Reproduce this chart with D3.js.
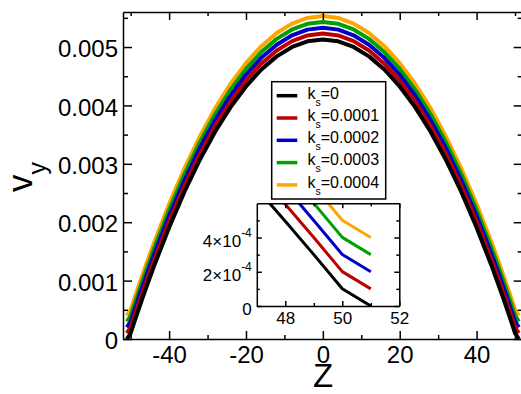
<!DOCTYPE html>
<html><head><meta charset="utf-8">
<script src="https://cdn.jsdelivr.net/npm/d3@7"></script>
<style>body{margin:0;background:#fff}</style>
</head><body>
<svg id="c" width="521" height="394"></svg>
<script>
// ---- data ----
const zValues = [-51,-50,-49,-48,-47,-46,-44,-40,-36,-32,-28,-24,-20,-16,-12,-8,-4,0,4,8,12,16,20,24,28,32,36,40,44,46,47,48,49,50,51];
const vyK0 = [0,0.000101,0.000300,0.000495,0.000686,0.000874,0.001236,0.001911,0.002523,0.003070,0.003553,0.003971,0.004325,0.004615,0.004840,0.005001,0.005098,0.005130,0.005098,0.005001,0.004840,0.004615,0.004325,0.003971,0.003553,0.003070,0.002523,0.001911,0.001236,0.000874,0.000686,0.000495,0.000300,0.000101,0];
const vyK1 = [0.0001,0.000201,0.000400,0.000595,0.000786,0.000974,0.001336,0.002011,0.002623,0.003170,0.003653,0.004071,0.004425,0.004715,0.004940,0.005101,0.005198,0.005230,0.005198,0.005101,0.004940,0.004715,0.004425,0.004071,0.003653,0.003170,0.002623,0.002011,0.001336,0.000974,0.000786,0.000595,0.000400,0.000201,0.0001];
const vyK2 = [0.0002,0.000301,0.000500,0.000695,0.000886,0.001074,0.001436,0.002111,0.002723,0.003270,0.003753,0.004171,0.004525,0.004815,0.005040,0.005201,0.005298,0.005330,0.005298,0.005201,0.005040,0.004815,0.004525,0.004171,0.003753,0.003270,0.002723,0.002111,0.001436,0.001074,0.000886,0.000695,0.000500,0.000301,0.0002];
const vyK3 = [0.0003,0.000401,0.000600,0.000795,0.000986,0.001174,0.001536,0.002211,0.002823,0.003370,0.003853,0.004271,0.004625,0.004915,0.005140,0.005301,0.005398,0.005430,0.005398,0.005301,0.005140,0.004915,0.004625,0.004271,0.003853,0.003370,0.002823,0.002211,0.001536,0.001174,0.000986,0.000795,0.000600,0.000401,0.0003];
const vyK4 = [0.0004,0.000501,0.000700,0.000895,0.001086,0.001274,0.001636,0.002311,0.002923,0.003470,0.003953,0.004371,0.004725,0.005015,0.005240,0.005401,0.005498,0.005530,0.005498,0.005401,0.005240,0.005015,0.004725,0.004371,0.003953,0.003470,0.002923,0.002311,0.001636,0.001274,0.001086,0.000895,0.000700,0.000501,0.0004];
const seriesValues = [vyK0, vyK1, vyK2, vyK3, vyK4];
const legendValues = ["=0", "=0.0001", "=0.0002", "=0.0003", "=0.0004"];
const seriesColors = ["#000000", "#bb0000", "#0000c8", "#00a000", "#ffa500"];

const mainXTicks = [-40, -20, 0, 20, 40];
const mainXMinor = [-50, -30, -10, 10, 30, 50];
const mainYTicks = [0, 0.001, 0.002, 0.003, 0.004, 0.005];
const mainYMinor = [0.0005, 0.0015, 0.0025, 0.0035, 0.0045, 0.0055];
const mainYLabels = ["0", "0.001", "0.002", "0.003", "0.004", "0.005"];
const insetXTicks = [48, 50, 52];
const insetXMinor = [49, 51];
const insetYTicks = [0, 0.0002, 0.0004];
const insetYMinor = [0.0001, 0.0003, 0.0005];
const insetYMant = ["0", "2\u00d710", "4\u00d710"];
const insetYExp = ["", "-4", "-4"];

// ---- drawing ----
const FONT = "'Liberation Sans', Arial, Helvetica, sans-serif";
const svg = d3.select("#c");
svg.append("rect").attr("width",521).attr("height",394).attr("fill","#fff");

const x = d3.scaleLinear().domain([-52,52]).range([123,522.7]);
const y = d3.scaleLinear().domain([0,0.0056]).range([339,12]);

function styleAxis(g, fs){
  g.attr("font-family", FONT).attr("font-size", fs);
  g.selectAll("path.domain").attr("stroke","#000").attr("stroke-width",1.5);
  g.selectAll(".tick line").attr("stroke","#000").attr("stroke-width",1.5);
  g.selectAll(".tick text").attr("fill","#000");
}
function minor(g){ g.select("path.domain").remove(); }

// main lines (drawn under frame)
const mainLine = d3.line().x((d,i)=>x(zValues[i])).y(d=>y(d));
const linesG = svg.append("g");
for (let s = seriesValues.length-1; s >= 0; s--) {
  linesG.append("path").attr("d", mainLine(seriesValues[s]))
    .attr("fill","none").attr("stroke",seriesColors[s]).attr("stroke-width",4)
    .attr("stroke-linejoin","round");
}

// main axes
svg.append("g").attr("transform","translate(0,339)")
  .call(d3.axisBottom(x).tickValues(mainXTicks).tickSizeInner(-8).tickSizeOuter(0).tickPadding(7).tickFormat(d=>String(d)))
  .call(g=>styleAxis(g,24));
svg.append("g").attr("transform","translate(0,339)")
  .call(d3.axisBottom(x).tickValues(mainXMinor).tickSize(-4).tickFormat(""))
  .call(minor).call(g=>styleAxis(g,24));
svg.append("g").attr("transform","translate(0,12)")
  .call(d3.axisTop(x).tickValues(mainXTicks).tickSizeInner(-8).tickSizeOuter(0).tickFormat(""))
  .call(g=>styleAxis(g,24));
svg.append("g").attr("transform","translate(0,12)")
  .call(d3.axisTop(x).tickValues(mainXMinor).tickSize(-4).tickFormat(""))
  .call(minor).call(g=>styleAxis(g,24));
const yAx = svg.append("g").attr("transform","translate(123,0)")
  .call(d3.axisLeft(y).tickValues(mainYTicks).tickSizeInner(-9).tickSizeOuter(0).tickPadding(5).tickFormat((d,i)=>mainYLabels[i]))
  .call(g=>styleAxis(g,24));
yAx.selectAll(".tick text").attr("dy","0.4em");
svg.append("g").attr("transform","translate(123,0)")
  .call(d3.axisLeft(y).tickValues(mainYMinor).tickSize(-5).tickFormat(""))
  .call(minor).call(g=>styleAxis(g,24));
svg.append("g").attr("transform","translate(522.7,0)")
  .call(d3.axisRight(y).tickValues(mainYTicks).tickSizeInner(-9).tickSizeOuter(0).tickFormat(""))
  .call(g=>styleAxis(g,24));
svg.append("g").attr("transform","translate(522.7,0)")
  .call(d3.axisRight(y).tickValues(mainYMinor).tickSize(-5).tickFormat(""))
  .call(minor).call(g=>styleAxis(g,24));

// axis titles
svg.append("text").attr("x",323).attr("y",386.8).attr("text-anchor","middle")
  .attr("font-family",FONT).attr("font-size",33).text("Z");
const yt = svg.append("text").attr("transform","translate(32,192) rotate(-90)")
  .attr("font-family",FONT).attr("font-size",35);
yt.append("tspan").text("v");
yt.append("tspan").attr("dy",13.5).attr("font-size",25).text("y");

// legend
const lg = svg.append("g");
lg.append("rect").attr("x",271.7).attr("y",81.7).attr("width",114).attr("height",117.3)
  .attr("fill","#fff").attr("stroke","#000").attr("stroke-width",1.5);
legendValues.forEach((lab,i)=>{
  const cy = 95.7 + i*22.3;
  lg.append("line").attr("x1",276.7).attr("x2",297.3).attr("y1",cy).attr("y2",cy)
    .attr("stroke",seriesColors[i]).attr("stroke-width",3.5);
  const t = lg.append("text").attr("x",307.5).attr("y",cy+2.8)
    .attr("font-family",FONT).attr("font-size",16);
  t.append("tspan").text("k");
  t.append("tspan").attr("dy",7).attr("font-size",10.5).text("s");
  t.append("tspan").attr("dy",-7).text(lab);
});

// inset
const ix = d3.scaleLinear().domain([47,52]).range([256.8,399.3]);
const iy = d3.scaleLinear().domain([0,0.0006]).range([306,203.3]);
svg.append("rect").attr("x",256.8).attr("y",203.3).attr("width",142.5).attr("height",102.7).attr("fill","#fff");
svg.append("clipPath").attr("id","ic").append("rect")
  .attr("x",256.8).attr("y",203.3).attr("width",142.5).attr("height",102.7);
const insetLine = d3.line().x((d,i)=>ix(zValues[i])).y(d=>iy(d));
const ig = svg.append("g").attr("clip-path","url(#ic)");
for (let s = seriesValues.length-1; s >= 0; s--) {
  ig.append("path").attr("d", insetLine(seriesValues[s]))
    .attr("fill","none").attr("stroke",seriesColors[s]).attr("stroke-width",3)
    .attr("stroke-linejoin","round");
}
svg.append("g").attr("transform","translate(0,306)")
  .call(d3.axisBottom(ix).tickValues(insetXTicks).tickSizeInner(-5).tickSizeOuter(0).tickPadding(6).tickFormat(d=>String(d)))
  .call(g=>styleAxis(g,17));
svg.append("g").attr("transform","translate(0,306)")
  .call(d3.axisBottom(ix).tickValues(insetXMinor).tickSize(-3).tickFormat(""))
  .call(minor).call(g=>styleAxis(g,17));
svg.append("g").attr("transform","translate(0,203.3)")
  .call(d3.axisTop(ix).tickValues(insetXTicks).tickSizeInner(-5).tickSizeOuter(0).tickFormat(""))
  .call(g=>styleAxis(g,17));
svg.append("g").attr("transform","translate(0,203.3)")
  .call(d3.axisTop(ix).tickValues(insetXMinor).tickSize(-3).tickFormat(""))
  .call(minor).call(g=>styleAxis(g,17));
const iyAx = svg.append("g").attr("transform","translate(256.8,0)")
  .call(d3.axisLeft(iy).tickValues(insetYTicks).tickSizeInner(-5).tickSizeOuter(0).tickFormat(""))
  .call(g=>styleAxis(g,17));
iyAx.selectAll(".tick").each(function(d,i){
  const t = d3.select(this).append("text").attr("x",-5).attr("y",8.5)
    .attr("text-anchor","end").attr("fill","#000");
  t.append("tspan").text(insetYMant[i]);
  if (insetYExp[i]) t.append("tspan").attr("dy",-10).attr("font-size",12).text(insetYExp[i]);
});
svg.append("g").attr("transform","translate(256.8,0)")
  .call(d3.axisLeft(iy).tickValues(insetYMinor).tickSize(-3).tickFormat(""))
  .call(minor).call(g=>styleAxis(g,17));
svg.append("g").attr("transform","translate(399.3,0)")
  .call(d3.axisRight(iy).tickValues(insetYTicks).tickSizeInner(-5).tickSizeOuter(0).tickFormat(""))
  .call(g=>styleAxis(g,17));
svg.append("g").attr("transform","translate(399.3,0)")
  .call(d3.axisRight(iy).tickValues(insetYMinor).tickSize(-3).tickFormat(""))
  .call(minor).call(g=>styleAxis(g,17));
</script>
</body></html>
